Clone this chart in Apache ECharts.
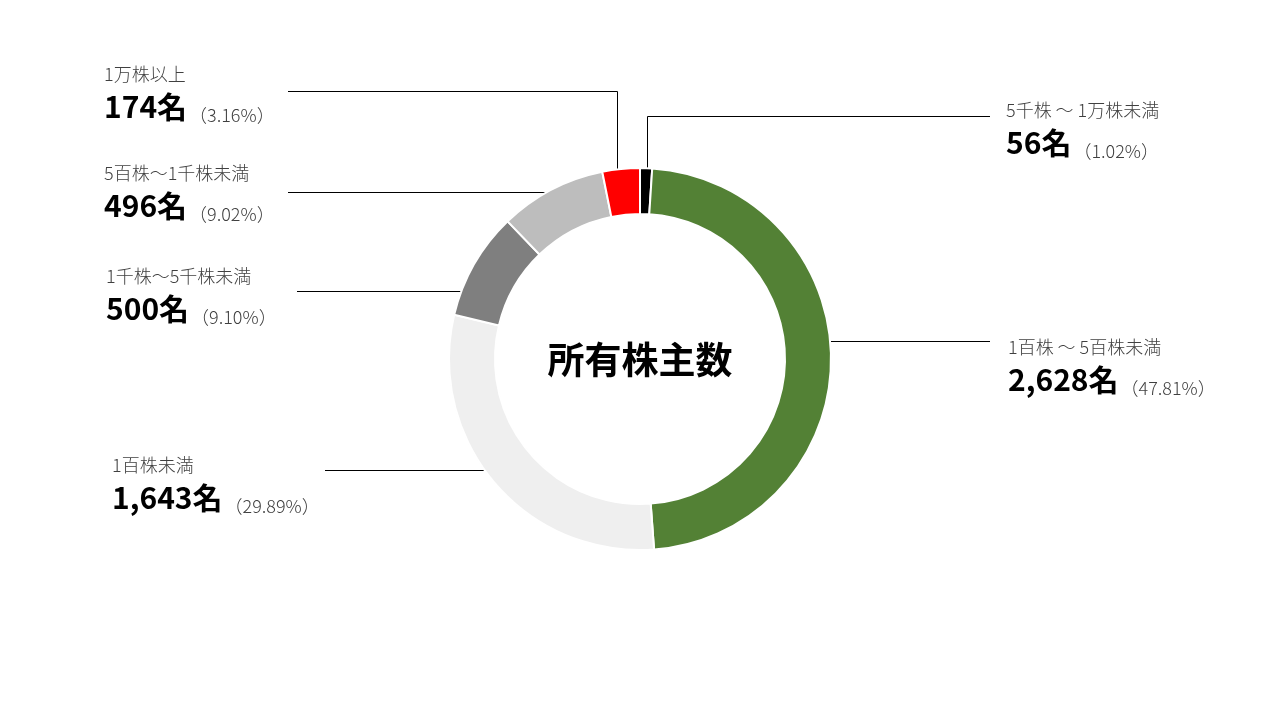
<!DOCTYPE html>
<html>
<head>
<meta charset="utf-8">
<script src="https://cdn.jsdelivr.net/npm/echarts@6/dist/echarts.min.js"></script>
<style>
html,body{margin:0;padding:0;background:#fff;}
#chart{width:1280px;height:720px;}
</style>
</head>
<body>
<div id="chart"></div>
<script>
// Data (clockwise from 12 o'clock)
const categories = ['5千株 ～ 1万株未満', '1百株 ～ 5百株未満', '1百株未満', '1千株～5千株未満', '5百株～1千株未満', '1万株以上'];
const holders = [56, 2628, 1643, 500, 496, 174];
const sliceColors = ['#000000', '#538135', '#efefef', '#7f7f7f', '#bdbdbd', '#ff0000'];
const centerTitle = '所有株主数';

// Label layout (positions only)
const labelPos = [
  { x: 1006, y: 95,  line: [[647.5, 170], [647.5, 116.5], [990, 116.5]] },
  { x: 1008, y: 332, line: [[831, 341.5], [990, 341.5], [990, 341.5]] },
  { x: 112,  y: 450, line: [[486, 470.5], [325, 470.5], [325, 470.5]] },
  { x: 106,  y: 261, line: [[461, 291.5], [297, 291.5], [297, 291.5]] },
  { x: 104,  y: 158, line: [[546, 192.5], [288, 192.5], [288, 192.5]] },
  { x: 104,  y: 59,  line: [[617.5, 170], [617.5, 91.5], [288, 91.5]] }
];

const FONT = '"Noto Sans CJK JP", "Noto Sans", sans-serif';
const chart = echarts.init(document.getElementById('chart'));
chart.setOption({
  backgroundColor: '#ffffff',
  animation: false,
  title: {
    text: centerTitle,
    left: 'center',
    top: 'middle',
    textStyle: { fontFamily: FONT, fontSize: 37, fontWeight: 'bold', color: '#000' }
  },
  series: [{
    type: 'pie',
    center: [640, 359],
    radius: [145, 191],
    startAngle: 90,
    clockwise: true,
    percentPrecision: 2,
    avoidLabelOverlap: false,
    itemStyle: { borderColor: '#ffffff', borderWidth: 2 },
    data: categories.map((c, i) => ({ name: c, value: holders[i], itemStyle: { color: sliceColors[i] } })),
    label: {
      show: true,
      position: 'outside',
      fontFamily: FONT,
      formatter: p => '{c|' + p.name + '}\n{v|' + echarts.format.addCommas(p.value) + '名}{p|（' + p.percent.toFixed(2) + '%）}',
      rich: {
        c: { fontFamily: FONT, fontSize: 18, color: '#404040', lineHeight: 31, fontWeight: 300 },
        v: { fontFamily: FONT, fontSize: 30, fontWeight: 'bold', color: '#000', lineHeight: 34 },
        p: { fontFamily: FONT, fontSize: 18, color: '#404040', lineHeight: 34, fontWeight: 300, verticalAlign: 'bottom', padding: [5, 0, 0, 2] }
      }
    },
    labelLine: { show: true, smooth: false, length: 10, length2: 10, lineStyle: { color: '#000', width: 1, opacity: 1 } },
    labelLayout: function (params) {
      const lp = labelPos[params.dataIndex];
      return { x: lp.x, y: lp.y, align: 'left', verticalAlign: 'top', labelLinePoints: lp.line };
    }
  }]
});
</script>
</body>
</html>
